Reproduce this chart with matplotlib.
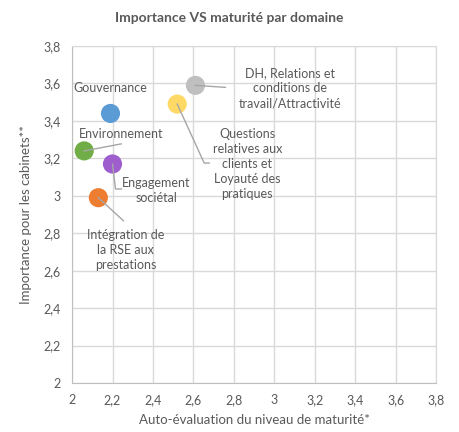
import matplotlib.pyplot as plt
from matplotlib.ticker import FuncFormatter
from matplotlib.transforms import IdentityTransform

plt.rcParams['font.family'] = ['Lato', 'DejaVu Sans']

# data
domaines = ['Gouvernance', 'DH, Relations et\nconditions de\ntravail/Attractivité',
            'Questions\nrelatives aux\nclients et\nLoyauté des\npratiques',
            'Environnement', 'Engagement\nsociétal',
            'Intégration de\nla RSE aux\nprestations']
maturite = [2.19, 2.61, 2.52, 2.06, 2.20, 2.13]
importance = [3.44, 3.59, 3.49, 3.24, 3.17, 2.99]
couleurs = ['#5B9BD5', '#BFBFBF', '#FFD966', '#70AD47', '#9E5ECE', '#ED7D31']

# label offsets (pixels) and leader line vertices (pixels, relative to marker)
text_off = [(0, 25), (95, -3), (70, -60), (37, 17), (44, -27), (27, -52)]
leaders = [[], [(0, 0), (30, -2)], [(0, 0), (27, -59), (32, -59)],
           [(0, 0), (37, 7)], [(0, 0), (3, -25), (9, -25)],
           [(0, 0), (25, -23)]]

txt = '#595959'
line_col = '#A6A6A6'

fig = plt.figure(figsize=(4.59, 4.32), dpi=100)
ax = fig.add_axes([0.157, 0.1134, 0.793, 0.780])
ax.set_xlim(2, 3.8)
ax.set_ylim(2, 3.8)

ax.scatter(maturite, importance, s=190, c=couleurs, zorder=4, linewidths=0)

# leader lines, drawn in display pixels
for i, pts in enumerate(leaders):
    if not pts:
        continue
    px, py = ax.transData.transform((maturite[i], importance[i]))
    xs = [px + dx for dx, dy in pts]
    ys = [py + dy for dx, dy in pts]
    ax.plot(xs, ys, color=line_col, lw=1, transform=IdentityTransform(), zorder=5)

for i, lab in enumerate(domaines):
    ax.annotate(lab, xy=(maturite[i], importance[i]), xytext=text_off[i],
                textcoords='offset pixels', ha='center', va='center',
                fontsize=9, color=txt, linespacing=1.3, zorder=5)

ticks = [2 + 0.2 * k for k in range(10)]
ax.set_xticks(ticks)
ax.set_yticks(ticks)
fmt = FuncFormatter(lambda v, p: ('%g' % round(v, 1)).replace('.', ','))
ax.xaxis.set_major_formatter(fmt)
ax.yaxis.set_major_formatter(fmt)
ax.tick_params(length=0, labelsize=9, labelcolor=txt, pad=8)
ax.grid(True, color='#D9D9D9', lw=1)
ax.set_axisbelow(True)
for s in ax.spines.values():
    s.set_color('#D9D9D9')
ax.spines['left'].set_color('#BFBFBF')
ax.spines['bottom'].set_color('#BFBFBF')

ax.set_xlabel('Auto-évaluation du niveau de maturité*', fontsize=9.5, color=txt, labelpad=6)
ax.set_ylabel('Importance pour les cabinets**', fontsize=9.5, color=txt, labelpad=8)
fig.text(0.5, 0.958, 'Importance VS maturité par domaine', ha='center', va='center',
         fontsize=10, fontweight='bold', color=txt)

fig.savefig('out.png', dpi=100)
